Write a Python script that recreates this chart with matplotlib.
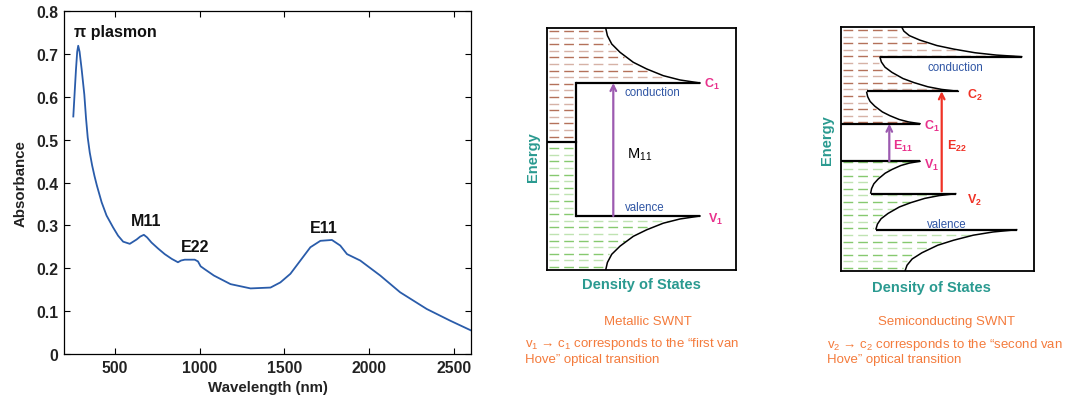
import numpy as np
import matplotlib.pyplot as plt

plt.rcParams['font.family'] = ['Liberation Sans', 'DejaVu Sans']
plt.rcParams['mathtext.fontset'] = 'custom'
plt.rcParams['mathtext.rm'] = 'Liberation Sans'
plt.rcParams['mathtext.it'] = 'Liberation Sans:italic'
plt.rcParams['mathtext.bf'] = 'Liberation Sans:bold'
plt.rcParams['lines.scale_dashes'] = False

# absorbance spectrum
wavelength = [255, 263, 271, 278, 284, 292, 304, 320, 330, 340, 352, 366, 380, 394, 422,
              451, 490, 519, 549, 588, 628, 650, 671, 690, 716, 755, 794, 835, 872, 890,
              912, 971, 990, 1006, 1029, 1084, 1182, 1300, 1418, 1476, 1535, 1594, 1653,
              1712, 1780, 1829, 1869, 1947, 2065, 2182, 2339, 2476, 2600]
absorbance = [0.554, 0.61, 0.665, 0.705, 0.719, 0.705, 0.665, 0.605, 0.55, 0.505, 0.47,
              0.44, 0.415, 0.393, 0.354, 0.323, 0.295, 0.276, 0.262, 0.257, 0.267, 0.274,
              0.278, 0.272, 0.26, 0.246, 0.233, 0.222, 0.214, 0.218, 0.22, 0.22, 0.216,
              0.2045, 0.198, 0.183, 0.163, 0.153, 0.155, 0.167, 0.187, 0.218, 0.249,
              0.264, 0.266, 0.253, 0.233, 0.218, 0.183, 0.144, 0.105, 0.078, 0.055]
peak_names = ['π plasmon', 'M11', 'E22', 'E11']
peak_x = [259, 682, 972, 1731]
peak_y = [0.753, 0.311, 0.251, 0.294]
x_ticks = [500, 1000, 1500, 2000, 2500]
y_ticks = [0, 0.1, 0.2, 0.3, 0.4, 0.5, 0.6, 0.7, 0.8]
y_ticklabels = ['0', '0.1', '0.2', '0.3', '0.4', '0.5', '0.6', '0.7', '0.8']

# van Hove singularity shape (fractions)
vh_w = [0, 0.212, 0.389, 0.565, 0.707, 0.848, 0.936, 0.982, 1.0]
vh_v = [0, 0.055, 0.133, 0.255, 0.376, 0.558, 0.709, 0.861, 1.0]

# metallic diagram (DOS units x, energy units E)
metal_size = (189, 242)
metal_cond_edge = [187]
metal_cond_start = [29]
metal_cond_tip = [153]
metal_cond_end_x = [58.7]
metal_cond_end_E = [242]
metal_val_edge = [54]
metal_val_start = [29]
metal_val_tip = [153]
metal_val_end_x = [58.7]
metal_val_end_E = [0]
metal_fermi = 128.3

# semiconducting diagram
semi_size = (193, 244)
semi_cond_edge = [147.3, 179.7, 214.3]
semi_cond_start = [0, 25.7, 39]
semi_cond_tip = [79, 117.3, 180.7]
semi_cond_end_x = [25.7, 39, 60.7]
semi_cond_end_E = [178.7, 213.7, 244]
semi_val_edge = [109.7, 77.3, 41.3]
semi_val_start = [0, 29.7, 35]
semi_val_tip = [79, 114.7, 175.7]
semi_val_end_x = [29.7, 35, 64]
semi_val_end_E = [78, 42, 0]

BLUE = '#2f55a4'
PINK = '#e8318c'
RED = '#f03226'
PURPLE = '#9c5ab0'
TEAL = '#2a9a90'
ORANGE = '#f47b3c'
BROWN = ['#b4715a', '#d6b2a6']
GREEN = ['#86c96f', '#bfe3b2']

fig = plt.figure(figsize=(10.68, 4.02), dpi=100)

# ---- spectrum ----
ax = fig.add_axes([0.0599, 0.1169, 0.3811, 0.8532])
ax.plot(wavelength, absorbance, color='#2a5caa', lw=1.3)
ax.set_xlim(200, 2600)
ax.set_ylim(0, 0.8)
ax.set_xticks(x_ticks)
ax.set_yticks(y_ticks)
ax.set_yticklabels(y_ticklabels)
ax.tick_params(direction='in', length=4, top=True, right=True, labelsize=11.3, pad=4)
for lab in ax.get_xticklabels() + ax.get_yticklabels():
    lab.set_fontweight('bold')
    lab.set_color('#222222')
ax.set_xlabel('Wavelength (nm)', fontsize=10.8, fontweight='bold', color='#222222', labelpad=4)
ax.set_ylabel('Absorbance', fontsize=10.8, fontweight='bold', color='#222222', labelpad=6)
for s in ax.spines.values():
    s.set_linewidth(0.9)
for name, px, py in zip(peak_names, peak_x, peak_y):
    ha = 'left' if name.startswith('π') else 'center'
    ax.text(px, py, name, ha=ha, va='center', fontsize=11.5, fontweight='bold', color='#111111')


def band_curve(edge, tip, end_x, end_E):
    w = np.array(vh_w)
    v = np.array(vh_v)
    return tip - w * (tip - end_x), edge + v * (end_E - edge)


def curve_x_at(E, edge, tip, end_x, end_E):
    v = (E - edge) / (end_E - edge)
    w = np.interp(v, vh_v, vh_w)
    return tip - w * (tip - end_x)


def draw_panel(ax, size, cond, val, cond_lo, val_hi):
    W, H = size
    ax.set_xlim(0, W)
    ax.set_ylim(0, H)
    ax.set_xticks([])
    ax.set_yticks([])
    for s in ax.spines.values():
        s.set_linewidth(1.3)
    step = 6.6
    # conduction (filled, brown) rows
    rows = np.arange(H - 3, cond_lo, -step)
    for i, E in enumerate(rows):
        below = [k for k in range(len(cond[0])) if cond[0][k] <= E]
        if not below:
            x_end = cond[1][0]
        else:
            k = max(below, key=lambda j: cond[0][j])
            x_end = curve_x_at(E, cond[0][k], cond[2][k], cond[3][k], cond[4][k])
        ax.plot([2, x_end - 3], [E, E], color=BROWN[i % 2], lw=1.0, ls=(0, (7, 3.6)))
    # valence (green) rows
    rows = np.arange(3, val_hi, step)
    for i, E in enumerate(rows):
        above = [k for k in range(len(val[0])) if val[0][k] >= E]
        if not above:
            x_end = val[1][0]
        else:
            k = min(above, key=lambda j: val[0][j])
            x_end = curve_x_at(E, val[0][k], val[2][k], val[3][k], val[4][k])
        ax.plot([2, x_end - 3], [E, E], color=GREEN[i % 2], lw=1.0, ls=(0, (7, 3.6)))
    # band edges and van Hove curves
    for grp in (cond, val):
        for edge, start, tip, ex, eE in zip(*grp):
            ax.plot([start, tip], [edge, edge], color='black', lw=1.6, solid_capstyle='butt')
            cx, cy = band_curve(edge, tip, ex, eE)
            ax.plot(cx, cy, color='black', lw=1.1)


def arrow(ax, x, e0, e1, color):
    ax.annotate('', xy=(x, e1), xytext=(x, e0),
                arrowprops=dict(arrowstyle='->', color=color, lw=1.6,
                                shrinkA=0, shrinkB=0, mutation_scale=10))


# ---- metallic ----
axm = fig.add_axes([547 / 1068, 1 - 271 / 402, 189 / 1068, 242 / 402])
metal_cond = (metal_cond_edge, metal_cond_start, metal_cond_tip, metal_cond_end_x, metal_cond_end_E)
metal_val = (metal_val_edge, metal_val_start, metal_val_tip, metal_val_end_x, metal_val_end_E)
draw_panel(axm, metal_size, metal_cond, metal_val, metal_fermi, metal_fermi)
axm.plot([metal_cond_start[0], metal_cond_start[0]], [metal_val_edge[0], metal_cond_edge[0]],
         color='black', lw=1.6)
axm.plot([0, metal_cond_start[0]], [metal_fermi, metal_fermi], color='black', lw=1.6)
arrow(axm, 66.3, metal_val_edge[0], metal_cond_edge[0], PURPLE)
axm.text(105.7, 177.7, 'conduction', color=BLUE, fontsize=8.3, ha='center', va='center')
axm.text(98, 62.7, 'valence', color=BLUE, fontsize=8.3, ha='center', va='center')
axm.text(157.3, 187, r'C$_\mathbf{1}$', color=PINK, fontsize=9, fontweight='bold', va='center', clip_on=False)
axm.text(160.7, 51.7, r'V$_\mathbf{1}$', color=PINK, fontsize=9, fontweight='bold', va='center', clip_on=False)
axm.text(79.7, 116, r'M$_\mathregular{11}$', color='black', fontsize=10.5, va='center')
axm.text(-13.7, 114.3, 'Energy', color=TEAL, fontsize=10.5, fontweight='bold', rotation=90,
         ha='center', va='center', clip_on=False)
axm.text(94.7, -14, 'Density of States', color=TEAL, fontsize=10.5, fontweight='bold',
         ha='center', va='center', clip_on=False)
axm.text(101, -50.7, 'Metallic SWNT', color=ORANGE, fontsize=9.5, ha='center', va='center', clip_on=False)
axm.text(-22, -73, 'v$_1$ → c$_1$ corresponds to the “first van', color=ORANGE,
         fontsize=9.5, ha='left', va='center', clip_on=False)
axm.text(-22, -89, 'Hove” optical transition', color=ORANGE, fontsize=9.5, ha='left', va='center', clip_on=False)

# ---- semiconducting ----
axs = fig.add_axes([841 / 1068, 1 - 272 / 402, 193 / 1068, 244 / 402])
semi_cond = (semi_cond_edge, semi_cond_start, semi_cond_tip, semi_cond_end_x, semi_cond_end_E)
semi_val = (semi_val_edge, semi_val_start, semi_val_tip, semi_val_end_x, semi_val_end_E)
draw_panel(axs, semi_size, semi_cond, semi_val, semi_cond_edge[0], semi_val_edge[0])
arrow(axs, 48.3, semi_val_edge[0], semi_cond_edge[0], PURPLE)
arrow(axs, 100.7, semi_val_edge[1] + 2.4, semi_cond_edge[1], RED)
axs.text(114, 203.7, 'conduction', color=BLUE, fontsize=8.3, ha='center', va='center')
axs.text(105.7, 47, 'valence', color=BLUE, fontsize=8.3, ha='center', va='center')
axs.text(125.7, 177, r'C$_\mathbf{2}$', color=RED, fontsize=9, fontweight='bold', va='center', clip_on=False)
axs.text(83, 146, r'C$_\mathbf{1}$', color=PINK, fontsize=9, fontweight='bold', va='center', clip_on=False)
axs.text(83, 107, r'V$_\mathbf{1}$', color=PINK, fontsize=9, fontweight='bold', va='center', clip_on=False)
axs.text(125.7, 72, r'V$_\mathbf{2}$', color=RED, fontsize=9, fontweight='bold', va='center', clip_on=False)
axs.text(51.7, 125.3, r'E$_\mathbf{11}$', color=PINK, fontsize=9, fontweight='bold', va='center')
axs.text(106.3, 125.3, r'E$_\mathbf{22}$', color=RED, fontsize=9, fontweight='bold', va='center')
axs.text(-14.3, 132, 'Energy', color=TEAL, fontsize=10.5, fontweight='bold', rotation=90,
         ha='center', va='center', clip_on=False)
axs.text(90.7, -16.3, 'Density of States', color=TEAL, fontsize=10.5, fontweight='bold',
         ha='center', va='center', clip_on=False)
axs.text(105.7, -49.7, 'Semiconducting SWNT', color=ORANGE, fontsize=9.5, ha='center', va='center', clip_on=False)
axs.text(-14.3, -73, 'v$_2$ → c$_2$ corresponds to the “second van', color=ORANGE,
         fontsize=9.5, ha='left', va='center', clip_on=False)
axs.text(-14.3, -88, 'Hove” optical transition', color=ORANGE, fontsize=9.5, ha='left', va='center', clip_on=False)

fig.savefig('out.png', dpi=100)
